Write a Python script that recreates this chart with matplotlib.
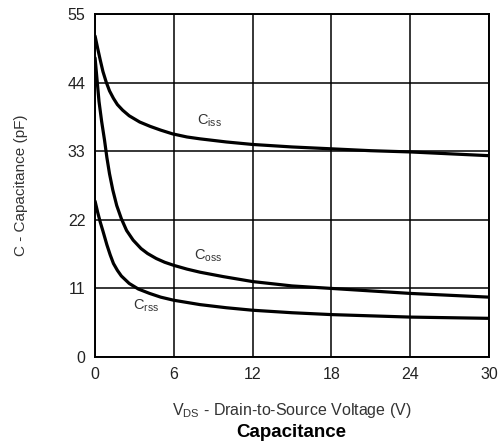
import matplotlib.pyplot as plt

plt.rcParams['font.family'] = ['Liberation Sans', 'DejaVu Sans']

v_iss = [0, 0.2, 0.4, 0.6, 0.85, 1.1, 1.4, 1.7, 2.1, 2.6, 3.4, 4.2, 5, 5.9, 7, 8, 10, 12,
         15, 18, 21, 24, 27, 30]
c_iss = [51.5, 49.5, 47.6, 45.8, 44.1, 42.7, 41.5, 40.5, 39.6, 38.7, 37.7, 37.0, 36.4, 35.8,
         35.3, 35.0, 34.5, 34.1, 33.7, 33.4, 33.1, 32.9, 32.6, 32.3]

v_oss = [0, 0.15, 0.3, 0.5, 0.72, 0.9, 1.1, 1.35, 1.65, 2.0, 2.4, 2.9, 3.5, 4.0, 4.66, 5.3,
         6, 7, 8, 9.75, 12, 15, 18, 21, 24, 27, 30]
c_oss = [48, 44.5, 41, 37.8, 34.8, 32.0, 29.4, 26.8, 24.3, 22.2, 20.3, 18.75, 17.4, 16.6,
         15.8, 15.2, 14.7, 14.1, 13.6, 12.9, 12.1, 11.4, 11.0, 10.6, 10.2, 9.9, 9.6]

v_rss = [0, 0.2, 0.4, 0.6, 0.9, 1.15, 1.4, 1.7, 2.0, 2.6, 3.3, 4.15, 5, 6, 8, 10, 12, 15,
         18, 21, 24, 27, 30]
c_rss = [25, 23.2, 21.6, 20.2, 18.0, 16.4, 15.0, 13.9, 13.0, 11.8, 10.9, 10.2, 9.6, 9.1,
         8.4, 7.9, 7.5, 7.1, 6.8, 6.6, 6.4, 6.3, 6.2]

x_ticks = [0, 6, 12, 18, 24, 30]
y_ticks = [0, 11, 22, 33, 44, 55]

fig = plt.figure(figsize=(5.03, 4.44), dpi=100)
ax = fig.add_axes([0.189, 0.196, 0.783, 0.772])

for v, c in [(v_iss, c_iss), (v_oss, c_oss), (v_rss, c_rss)]:
    ax.plot(v, c, color='black', lw=2.3, solid_capstyle='round', solid_joinstyle='round', zorder=3)

ax.set_xlim(0, 30)
ax.set_ylim(0, 55)
ax.set_xticks(x_ticks)
ax.set_yticks(y_ticks)
ax.grid(True, color='black', lw=1.1)
ax.tick_params(length=0, labelsize=11.5, labelcolor='#222222', pad=7)
for s in ax.spines.values():
    s.set_linewidth(1.4)

lbl = dict(fontsize=10.5, color='#333333')
ax.text(7.8, 37.3, r'C$_{\mathregular{iss}}$', **lbl)
ax.text(7.5, 15.6, r'C$_{\mathregular{oss}}$', **lbl)
ax.text(2.9, 7.6, r'C$_{\mathregular{rss}}$', **lbl)

ax.set_ylabel('C - Capacitance (pF)', fontsize=11, color='#333333', labelpad=28)
ax.set_xlabel(r'V$_{\mathregular{DS}}$ - Drain-to-Source Voltage (V)', fontsize=11.5,
              color='#333333', labelpad=14)
fig.text(0.58, 0.027, 'Capacitance', fontsize=13.5, fontweight='bold', ha='center',
         va='center')

fig.savefig('out.png', dpi=100)
